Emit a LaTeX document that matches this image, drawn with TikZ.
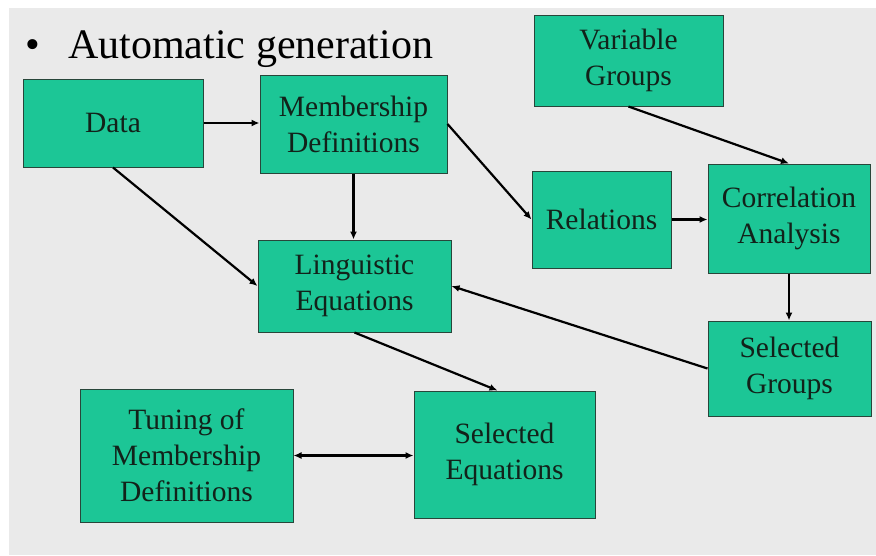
\documentclass[tikz,border=0pt]{standalone}
\usepackage{fontspec}
\setmainfont{Liberation Serif}
\usetikzlibrary{arrows.meta}
\definecolor{boxfill}{RGB}{28,198,150}
\definecolor{boxline}{RGB}{40,70,58}
\definecolor{boxtext}{RGB}{18,34,26}
\definecolor{bg}{RGB}{234,234,234}
\tikzset{
  x=1pt, y=-1pt,
  box/.style={draw=boxline, line width=1pt, fill=boxfill, text=boxtext,
    align=center, inner sep=0pt, font=\fontsize{29.5}{36}\selectfont},
  conn/.style={draw=black, line width=2.2pt, -{Latex[length=8pt,width=7pt]}},
  dconn/.style={draw=black, line width=2.2pt, {Latex[length=8pt,width=7pt]}-{Latex[length=8pt,width=7pt]}}
}
\begin{document}
\begin{tikzpicture}
\useasboundingbox (0,0) rectangle (876,555);
\fill[white] (0,0) rectangle (876,555);
\fill[bg] (9,8) rectangle (876,555);

\node[anchor=base, text=black, font=\fontsize{42}{50}\selectfont] (bul) at (33,58) {•};
\node[anchor=base west, inner sep=0pt, text=black, font=\fontsize{42}{50}\selectfont] (title) at (68,58) {Automatic generation};

\node[box, minimum width=180, minimum height=88] (data) at (113,123) {Data};
\node[box, minimum width=187, minimum height=98] (memb) at (353.5,124) {Membership\\Definitions};
\node[box, minimum width=189, minimum height=91] (vg) at (628.5,60.5) {Variable\\Groups};
\node[box, minimum width=139, minimum height=97] (rel) at (601.5,219.5) {Relations};
\node[box, minimum width=162, minimum height=109] (corr) at (789,218.5) {Correlation\\Analysis};
\node[box, minimum width=193, minimum height=92] (ling) at (354.5,286) {Linguistic\\Equations};
\node[box, minimum width=163, minimum height=95] (sg) at (789.5,368.5) {Selected\\Groups};
\node[box, minimum width=181, minimum height=127] (seq) at (504.5,454.5) {Selected\\Equations};
\node[box, minimum width=213, minimum height=133] (tun) at (186.5,455.5) {Tuning of\\Membership\\Definitions};

\draw[conn] (data.east) -- (memb.west |- data.east);
\draw[conn] (memb.south) -- (ling.north -| memb.south);
\draw[conn] (data.south) -- (ling.west);
\draw[conn] (memb.east) -- (rel.west);
\draw[conn] (rel.east) -- (corr.west |- rel.east);
\draw[conn] (vg.south) -- (corr.north);
\draw[conn] (corr.south) -- (sg.north -| corr.south);
\draw[conn] (sg.west) -- (ling.east);
\draw[conn] (ling.south) -- ([xshift=-7]seq.north);
\draw[dconn] (tun.east) -- (seq.west |- tun.east);
\end{tikzpicture}
\end{document}
